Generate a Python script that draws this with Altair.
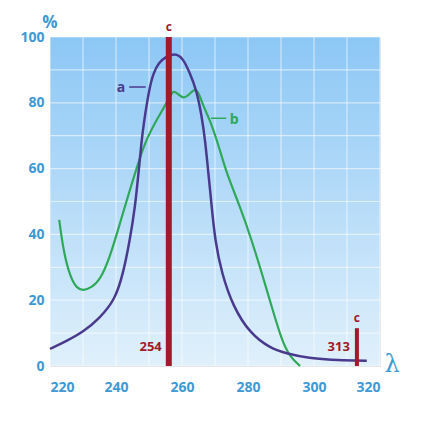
import altair as alt
import pandas as pd

# Curve a (purple)
a_x = [220, 225, 230, 235, 239.7, 242.2, 244.2, 245.8, 246.8, 247.8, 248.3, 250, 251.3, 253, 255, 256.8, 258.4, 260.3, 262.4, 264.4, 266, 267, 268, 269, 270, 272, 275.5, 280.6, 286.7, 291.7, 298.8, 305, 313, 316]
a_y = [5.2, 7.6, 10.3, 14.5, 20.1, 28.2, 38.3, 48.4, 58.6, 68.7, 73, 84, 89, 92.3, 93.9, 94.6, 94.8, 93.5, 89, 83.9, 75.8, 68.7, 58.6, 48.4, 38.3, 28.2, 18, 9.9, 5.4, 3.8, 2.3, 1.9, 1.6, 1.6]

# Curve b (green)
b_x = [222.8, 224, 226.1, 228.1, 230.1, 232.5, 235.2, 238.2, 241.2, 244.2, 247.3, 249.5, 252.3, 254.5, 256.4, 257.4, 258.9, 260.4, 262.2, 264, 265.3, 266.5, 268.5, 271.5, 273.5, 277.6, 281.1, 284.2, 287.2, 290.2, 292.7, 295.8]
b_y = [44.4, 35.3, 27, 23.6, 22.9, 23.8, 26.1, 33.2, 43.4, 53.5, 63.6, 69.5, 74.8, 78.5, 82, 83.8, 82.6, 81.2, 82.5, 84.5, 82.5, 78.8, 74.8, 65.7, 58.6, 48.4, 38.3, 28.2, 18, 7.9, 2.8, 0]

# Lamp lines c
c_x = [256, 313]
c_top = [100, 11.5]

x_grid = list(range(220, 330, 10))
y_grid = list(range(0, 110, 10))
x_ticks = list(range(220, 340, 20))
y_ticks = list(range(0, 120, 20))

LBL = "#3d9ad4"
RED = "#a3182b"
PURPLE = "#4a3a8e"
GREEN = "#2fa85a"
FONT = "Open Sans"

xs = alt.Scale(domain=[220, 320], nice=False, zero=False)
ys = alt.Scale(domain=[0, 100], nice=False)

bg = alt.Chart(pd.DataFrame({"x0": [220], "x1": [320], "y0": [0], "y1": [100]})).mark_rect(
    fill=alt.LinearGradient(
        gradient="linear",
        stops=[alt.GradientStop(color="#8cc7f5", offset=0), alt.GradientStop(color="#e0f0fb", offset=1)],
        x1=0, x2=0, y1=0, y2=1,
    )
).encode(
    x=alt.X("x0:Q", scale=xs,
            axis=alt.Axis(values=x_ticks, title=None, domain=False, ticks=False, grid=False,
                          labelFont=FONT, labelFontWeight="bold", labelFontSize=14, labelColor=LBL,
                          labelPadding=14)),
    x2="x1:Q",
    y=alt.Y("y0:Q", scale=ys,
            axis=alt.Axis(values=y_ticks, title=None, domain=False, ticks=False, grid=False,
                          labelFont=FONT, labelFontWeight="bold", labelFontSize=14, labelColor=LBL,
                          labelPadding=6)),
    y2="y1:Q",
)

vgrid = alt.Chart(pd.DataFrame({"x": x_grid})).mark_rule(color="white", opacity=0.55, strokeWidth=1.2).encode(
    x=alt.X("x:Q", scale=xs), y=alt.value(0), y2=alt.value(329))
hgrid = alt.Chart(pd.DataFrame({"y": y_grid})).mark_rule(color="white", opacity=0.55, strokeWidth=1.2).encode(
    y=alt.Y("y:Q", scale=ys), x=alt.value(0), x2=alt.value(330))

df_a = pd.DataFrame({"x": a_x, "y": a_y})
df_b = pd.DataFrame({"x": b_x, "y": b_y})
line_a = alt.Chart(df_a).mark_line(color=PURPLE, strokeWidth=2.5, interpolate="basis").encode(
    x=alt.X("x:Q", scale=xs), y=alt.Y("y:Q", scale=ys))
line_b = alt.Chart(df_b).mark_line(color=GREEN, strokeWidth=2.2, interpolate="basis").encode(
    x=alt.X("x:Q", scale=xs), y=alt.Y("y:Q", scale=ys))

df_c = pd.DataFrame({"x": c_x, "y0": [0, 0], "y1": c_top, "w": [6, 4]})
rules_c = alt.Chart(df_c).mark_rule(color=RED).encode(
    x=alt.X("x:Q", scale=xs), y=alt.Y("y0:Q", scale=ys), y2="y1:Q",
    strokeWidth=alt.StrokeWidth("w:Q", scale=None, legend=None))

# labels
lab_c = alt.Chart(pd.DataFrame({"x": c_x, "y": c_top, "t": ["c", "c"]})).mark_text(
    color=RED, font=FONT, fontWeight="bold", fontSize=12, baseline="bottom", dy=-3).encode(
    x=alt.X("x:Q", scale=xs), y=alt.Y("y:Q", scale=ys), text="t:N")
lab_nm = alt.Chart(pd.DataFrame({"x": c_x, "y": [5.8, 5.8], "t": ["254", "313"]})).mark_text(
    color=RED, font=FONT, fontWeight="bold", fontSize=13, align="right", dx=-7).encode(
    x=alt.X("x:Q", scale=xs), y=alt.Y("y:Q", scale=ys), text="t:N")

lab_a = alt.Chart(pd.DataFrame({"x": [241.5], "y": [84.5], "t": ["a"]})).mark_text(
    color=PURPLE, font=FONT, fontWeight="bold", fontSize=14).encode(
    x=alt.X("x:Q", scale=xs), y=alt.Y("y:Q", scale=ys), text="t:N")
tick_a = alt.Chart(pd.DataFrame({"x": [244], "x2": [249], "y": [84.8]})).mark_rule(color=PURPLE, strokeWidth=1.5).encode(
    x=alt.X("x:Q", scale=xs), x2="x2:Q", y=alt.Y("y:Q", scale=ys))
lab_b = alt.Chart(pd.DataFrame({"x": [275.8], "y": [74.8], "t": ["b"]})).mark_text(
    color=GREEN, font=FONT, fontWeight="bold", fontSize=14).encode(
    x=alt.X("x:Q", scale=xs), y=alt.Y("y:Q", scale=ys), text="t:N")
tick_b = alt.Chart(pd.DataFrame({"x": [268.8], "x2": [273.4], "y": [75.3]})).mark_rule(color=GREEN, strokeWidth=1.5).encode(
    x=alt.X("x:Q", scale=xs), x2="x2:Q", y=alt.Y("y:Q", scale=ys))

pct = alt.Chart(pd.DataFrame({"t": ["%"]})).mark_text(
    color=LBL, font=FONT, fontWeight="bold", fontSize=17, align="center").encode(
    x=alt.value(0), y=alt.value(-14), text="t:N")
lam = alt.Chart(pd.DataFrame({"t": ["λ"]})).mark_text(
    color=LBL, font="DejaVu Serif", fontSize=24, align="center").encode(
    x=alt.value(342), y=alt.value(328), text="t:N")

chart = alt.layer(bg, vgrid, hgrid, line_b, line_a, rules_c, lab_c, lab_nm, tick_a, lab_a, tick_b, lab_b, pct, lam).properties(
    width=330, height=329,
    autosize=alt.AutoSizeParams(type="none"),
    padding={"left": 42, "top": 29, "right": 45, "bottom": 50},
).configure_view(stroke=None).configure(background="white")

chart.save("out.html", embed_options={"renderer": "svg", "actions": False})
